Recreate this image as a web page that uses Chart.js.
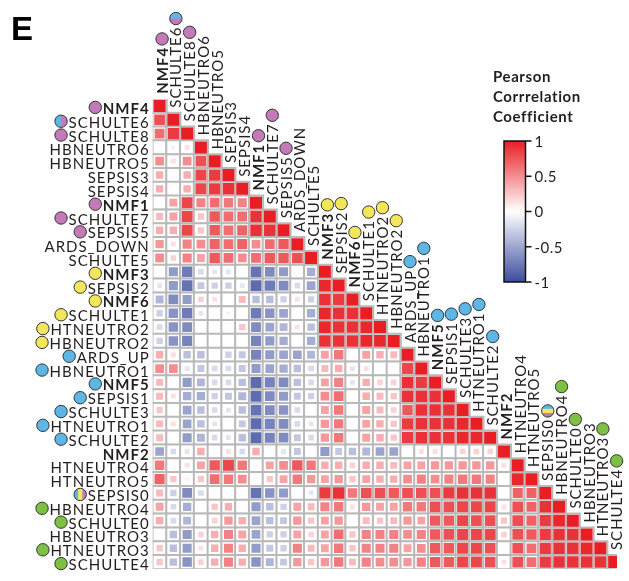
<!DOCTYPE html>
<html>
<head>
<meta charset="utf-8">
<script src="https://cdn.jsdelivr.net/npm/chart.js@4.4.1/dist/chart.umd.min.js"></script>
<style>
    html, body { margin: 0; padding: 0; background: #fff; }
    #corr-chart { display: block; }
</style>
</head>
<body>
<canvas id="corr-chart" width="629" height="581"></canvas>
<script>
// Signatures, in the order used for both rows and columns
const arrSignatures = [
    'NMF4', 'SCHULTE6', 'SCHULTE8', 'HBNEUTRO6', 'HBNEUTRO5', 'SEPSIS3', 'SEPSIS4',
    'NMF1', 'SCHULTE7', 'SEPSIS5', 'ARDS_DOWN', 'SCHULTE5', 'NMF3', 'SEPSIS2', 'NMF6',
    'SCHULTE1', 'HTNEUTRO2', 'HBNEUTRO2', 'ARDS_UP', 'HBNEUTRO1', 'NMF5', 'SEPSIS1',
    'SCHULTE3', 'HTNEUTRO1', 'SCHULTE2', 'NMF2', 'HTNEUTRO4', 'HTNEUTRO5', 'SEPSIS0',
    'HBNEUTRO4', 'SCHULTE0', 'HBNEUTRO3', 'HTNEUTRO3', 'SCHULTE4'
];

// Group dot of each signature ('' = no dot, several letters = split dot)
// p = purple, b = blue, y = yellow, g = green
const arrGroups = [
    'p', 'bp', 'p', '', '', '', '', 'p', 'p', 'p', '', '', 'y', 'y', 'y', 'y', 'y', 'y',
    'b', 'b', 'b', 'b', 'b', 'b', 'b', '', '', '', 'byp', 'g', 'g', '', 'g', 'g'
];

// Lower triangle of the Pearson correlation matrix, one row per signature
const arrCorr = [
    [1],
    [0.75, 1],
    [0.6, 0.85, 1],
    [0, -0.05, 0.1, 1],
    [0.45, 0.1, 0.45, 0.75, 1],
    [0.3, 0, 0.3, 0.8, 0.85, 1],
    [0.3, 0, 0.3, 0.8, 0.85, 0.9, 1],
    [0, 0.35, 0.8, 0.5, 0.6, 0.55, 0.5, 1],
    [0.25, 0.35, 0.8, 0.2, 0.7, 0.6, 0.6, 0.9, 1],
    [0.3, 0.3, 0.8, 0.2, 0.7, 0.6, 0.65, 0.9, 0.9, 1],
    [0.4, 0.1, 0.5, 0.45, 0.65, 0.6, 0.65, 0.45, 0.6, 0.7, 1],
    [0.45, 0.15, 0.5, 0.35, 0.7, 0.6, 0.45, 0.6, 0.7, 0.7, 0.75, 1],
    [0, -0.5, -0.7, -0.15, -0.1, -0.1, 0, -0.75, -0.6, -0.5, 0, -0.4, 1],
    [-0.1, -0.5, -0.75, -0.25, -0.2, -0.2, -0.1, -0.8, -0.7, -0.6, -0.15, -0.45, 0.95, 1],
    [-0.35, -0.6, -0.5, 0.15, 0.1, 0, 0.25, -0.3, -0.3, -0.2, 0.1, -0.2, 0.9, 0.85, 1],
    [-0.2, -0.55, -0.7, -0.1, 0, -0.05, 0, -0.7, -0.55, -0.45, 0, -0.4, 0.95, 0.9, 0.9, 1],
    [-0.15, -0.55, -0.6, 0, 0, 0, 0.2, -0.6, -0.45, -0.35, 0.1, -0.3, 0.95, 0.9, 0.9, 0.95, 1],
    [-0.2, -0.55, -0.65, 0, 0, 0, 0, -0.65, -0.5, -0.4, 0, -0.4, 0.9, 0.9, 0.9, 0.95, 0.95, 1],
    [0.3, 0.1, -0.3, -0.3, 0, -0.2, -0.25, -0.65, -0.5, -0.45, -0.45, -0.35, 0.35, 0.55, 0, 0.35, 0.3, 0.25, 1],
    [0.45, 0.45, -0.1, -0.25, -0.15, -0.15, -0.25, -0.5, -0.45, -0.4, -0.3, -0.15, 0.25, 0.3, -0.1, 0.1, 0, 0, 0.8, 1],
    [0.25, 0, -0.5, -0.35, -0.15, -0.15, -0.3, -0.8, -0.65, -0.6, -0.3, -0.15, 0.35, 0.5, -0.1, 0.3, 0.15, 0.15, 0.9, 0.85, 1],
    [0.25, 0.1, -0.4, -0.4, -0.2, -0.25, -0.35, -0.8, -0.6, -0.5, -0.25, -0.2, 0.45, 0.6, 0, 0.3, 0.25, 0.2, 0.9, 0.9, 0.9, 1],
    [0.2, 0, -0.45, -0.3, -0.15, -0.1, -0.3, -0.75, -0.6, -0.55, -0.15, 0, 0.35, 0.55, 0, 0.35, 0.25, 0.15, 0.7, 0.9, 0.9, 0.9, 1],
    [0.25, 0.1, -0.45, -0.3, -0.1, 0, -0.25, -0.8, -0.65, -0.6, -0.15, -0.1, 0.4, 0.55, 0, 0.35, 0.3, 0.2, 0.85, 0.9, 0.9, 0.9, 0.95, 1],
    [0.25, 0, -0.5, -0.35, -0.15, -0.1, -0.3, -0.8, -0.65, -0.6, -0.25, -0.15, 0.4, 0.55, 0, 0.35, 0.3, 0.2, 0.85, 0.9, 0.9, 0.9, 0.95, 0.95, 1],
    [-0.45, -0.15, -0.1, 0.3, 0, 0.1, -0.15, 0.3, 0, -0.1, -0.25, 0, -0.5, -0.25, -0.3, -0.35, -0.45, -0.45, 0, 0.1, 0.1, 0, 0.15, 0.15, 0.15, 1],
    [0.55, 0, 0.1, 0.35, 0.7, 0.8, 0.55, 0, 0.35, 0.45, 0.7, 0.55, 0.3, 0.3, 0.15, 0.3, 0.3, 0.25, 0.35, 0.35, 0.4, 0.4, 0.4, 0.4, 0.4, 0.1, 1],
    [0.65, 0.2, 0.05, 0.2, 0.6, 0.55, 0.45, 0, 0.2, 0.35, 0.55, 0.4, 0.35, 0.4, 0.2, 0.35, 0.3, 0.3, 0.45, 0.5, 0.45, 0.5, 0.55, 0.55, 0.5, 0, 0.95, 1],
    [0.25, -0.2, -0.6, -0.15, 0, 0, 0, -0.75, -0.55, -0.5, 0, -0.1, 0.85, 0.9, 0.55, 0.75, 0.75, 0.7, 0.75, 0.75, 0.75, 0.85, 0.9, 0.9, 0.9, 0, 0.65, 0.65, 1],
    [0.35, -0.15, -0.4, 0, 0.2, 0.3, 0, -0.5, -0.3, -0.2, 0.35, 0.25, 0.5, 0.55, 0.1, 0.4, 0.35, 0.35, 0.55, 0.55, 0.75, 0.75, 0.8, 0.8, 0.8, 0.1, 0.75, 0.65, 0.9, 1],
    [0.3, -0.15, -0.35, 0, 0.15, 0.4, 0.3, -0.45, -0.3, -0.25, 0.4, 0.2, 0.35, 0.4, 0, 0.25, 0.2, 0.25, 0.4, 0.35, 0.7, 0.7, 0.8, 0.75, 0.75, 0.2, 0.75, 0.65, 0.85, 0.95, 1],
    [0, -0.3, -0.5, 0.15, 0.3, 0.5, 0.35, -0.45, -0.2, -0.2, 0.35, 0.15, 0.35, 0.6, 0.2, 0.5, 0.5, 0.5, 0.45, 0.5, 0.7, 0.75, 0.8, 0.8, 0.8, 0.15, 0.75, 0.7, 0.85, 0.9, 0.9, 1],
    [0.2, -0.3, -0.5, 0.1, 0.3, 0.5, 0.3, -0.5, -0.25, -0.2, 0.5, 0.25, 0.35, 0.55, 0.2, 0.5, 0.5, 0.5, 0.35, 0.45, 0.7, 0.7, 0.8, 0.8, 0.75, 0, 0.75, 0.6, 0.85, 0.9, 0.9, 0.95, 1],
    [0.2, -0.3, -0.55, 0.15, 0.3, 0.5, 0.3, -0.55, -0.35, -0.25, 0.4, 0.2, 0.4, 0.55, 0.25, 0.5, 0.45, 0.45, 0.4, 0.5, 0.7, 0.7, 0.8, 0.8, 0.75, 0.1, 0.75, 0.6, 0.85, 0.9, 0.9, 0.9, 0.9, 1]
];

// Colour bar tick labels
const arrLegendTicks = [1, 0.5, 0, -0.5, -1];

// Styling
const CELL = 14.13;         // grid pitch in px
const MAX_SQUARE = 12;      // side of a |r| = 1 square
const FONT = 'Lato, "Open Sans", sans-serif';
const RED = [232, 30, 36];
const BLUE = [59, 76, 158];
const GROUP_COLOURS = { p: '#c47ab8', b: '#5db7e6', y: '#f2e65a', g: '#7cc143' };

/** Map a correlation coefficient onto the blue - white - red scale */
function corrColour(r) {
    const end = r >= 0 ? RED : BLUE;
    const t = Math.pow(Math.min(1, Math.abs(r)), 0.85);
    const c = end.map(v => Math.round(255 + (v - 255) * t));
    return `rgb(${c[0]}, ${c[1]}, ${c[2]})`;
}

/** Side of the coloured square, growing with |r| */
function squareSide(r) {
    return MAX_SQUARE * Math.pow(Math.abs(r), 0.4);
}

/** Draws a group dot, split in stripes when a signature belongs to several groups */
function drawGroupDot(ctx, x, y, strGroups, bVertical) {
    const R = 6.2;
    ctx.save();
    ctx.beginPath();
    ctx.arc(x, y, R, 0, Math.PI * 2);
    ctx.clip();
    const n = strGroups.length;
    for (let k = 0; k < n; k++) {
        ctx.fillStyle = GROUP_COLOURS[strGroups[k]];
        if (bVertical) ctx.fillRect(x - R + (2 * R / n) * k, y - R, 2 * R / n + 0.5, 2 * R);
        else ctx.fillRect(x - R, y - R + (2 * R / n) * k, 2 * R, 2 * R / n + 0.5);
    }
    ctx.restore();
    ctx.beginPath();
    ctx.arc(x, y, R, 0, Math.PI * 2);
    ctx.strokeStyle = '#333';
    ctx.lineWidth = 1;
    ctx.stroke();
}

// Build the point lists for the lower triangle
const arrCells = [];
const arrValues = [];
arrCorr.forEach((row, i) => {
    row.forEach((r, j) => {
        arrCells.push({ x: j, y: i });
        arrValues.push({ x: j, y: i, r: r });
    });
});

/** Row labels, column labels, group dots, colour bar and panel letter */
const labelPlugin = {
    id: 'corrLabels',
    afterDraw(chart) {
        const { ctx, scales: { x, y } } = chart;
        ctx.save();
        ctx.fillStyle = '#231f20';
        ctx.letterSpacing = '1px';

        arrSignatures.forEach((strName, i) => {
            const bBold = strName.startsWith('NMF');
            ctx.font = `${bBold ? 'bold ' : ''}15px ${FONT}`;
            const w = ctx.measureText(strName).width;

            // Row label, right aligned against the grid
            const rowY = y.getPixelForValue(i);
            ctx.textAlign = 'right';
            ctx.textBaseline = 'alphabetic';
            ctx.fillText(strName, x.left - 3, rowY + 8);
            if (arrGroups[i]) drawGroupDot(ctx, x.left - 4 - w - 6.5, rowY + 1.5, arrGroups[i], true);

            // Column label, reading upwards from the diagonal cell
            const colX = x.getPixelForValue(i);
            const startY = y.getPixelForValue(i) - CELL / 2 - 5;
            ctx.save();
            ctx.translate(colX + 8, startY);
            ctx.rotate(-Math.PI / 2);
            ctx.textAlign = 'left';
            ctx.fillStyle = '#231f20';
            ctx.fillText(strName, 0, 0);
            ctx.restore();
            if (arrGroups[i]) drawGroupDot(ctx, colX + 2.5, startY - w - 8, arrGroups[i], false);
        });

        // Colour bar legend
        ctx.letterSpacing = '0.6px';
        ctx.font = `bold 15px ${FONT}`;
        ctx.textAlign = 'left';
        ctx.fillStyle = '#231f20';
        ['Pearson', 'Corrrelation', 'Coefficient'].forEach((s, k) => ctx.fillText(s, 493, 82 + k * 20));

        const barL = 504, barR = 525.5, barT = 141, barB = 282;
        const grad = ctx.createLinearGradient(0, barT, 0, barB);
        grad.addColorStop(0, corrColour(1));
        grad.addColorStop(0.5, corrColour(0));
        grad.addColorStop(1, corrColour(-1));
        ctx.fillStyle = grad;
        ctx.fillRect(barL, barT, barR - barL, barB - barT);
        ctx.strokeStyle = '#111';
        ctx.lineWidth = 1.5;
        ctx.strokeRect(barL, barT, barR - barL, barB - barT);

        ctx.font = `15px ${FONT}`;
        ctx.letterSpacing = '0.5px';
        ctx.textBaseline = 'middle';
        ctx.fillStyle = '#231f20';
        for (const v of arrLegendTicks) {
            const ty = barT + (1 - v) / 2 * (barB - barT);
            ctx.beginPath();
            ctx.moveTo(barR, ty);
            ctx.lineTo(barR + 6, ty);
            ctx.stroke();
            ctx.fillText(String(v), barR + 9, ty + 1);
        }

        // Panel letter
        ctx.letterSpacing = '0px';
        ctx.font = 'bold 33px "Liberation Sans", Arial, sans-serif';
        ctx.textBaseline = 'alphabetic';
        ctx.fillStyle = '#000';
        ctx.fillText('E', 11, 40);
        ctx.restore();
    }
};

document.addEventListener('DOMContentLoaded', () => {
    const ctx = document.getElementById('corr-chart').getContext('2d');
    const padLeft = 152.7;
    const padTop = 99;
    const xMax = -0.5 + (629 - padLeft) / CELL;

    new Chart(ctx, {
        type: 'scatter',
        data: {
            datasets: [{
                // coloured squares, drawn on top
                data: arrValues,
                order: 0,
                pointStyle: 'rect',
                pointRadius: c => squareSide(c.raw.r) / Math.SQRT2,
                pointBackgroundColor: c => corrColour(c.raw.r),
                pointBorderWidth: 0,
                pointHoverRadius: c => squareSide(c.raw.r) / Math.SQRT2
            }, {
                // white cells with grey frame
                data: arrCells,
                order: 1,
                pointStyle: 'rect',
                pointRadius: CELL / Math.SQRT2,
                pointHoverRadius: CELL / Math.SQRT2,
                pointBackgroundColor: '#ffffff',
                pointBorderColor: '#b9b9b9',
                pointBorderWidth: 2
            }]
        },
        options: {
            responsive: false,
            animation: false,
            events: [],
            layout: { padding: { left: padLeft, top: padTop, right: 0, bottom: 581 - padTop - 34 * CELL } },
            plugins: { legend: { display: false }, tooltip: { enabled: false } },
            scales: {
                x: { type: 'linear', min: -0.5, max: xMax, display: false },
                y: { type: 'linear', min: -0.5, max: 33.5, reverse: true, display: false }
            }
        },
        plugins: [labelPlugin]
    });
});
</script>
</body>
</html>
